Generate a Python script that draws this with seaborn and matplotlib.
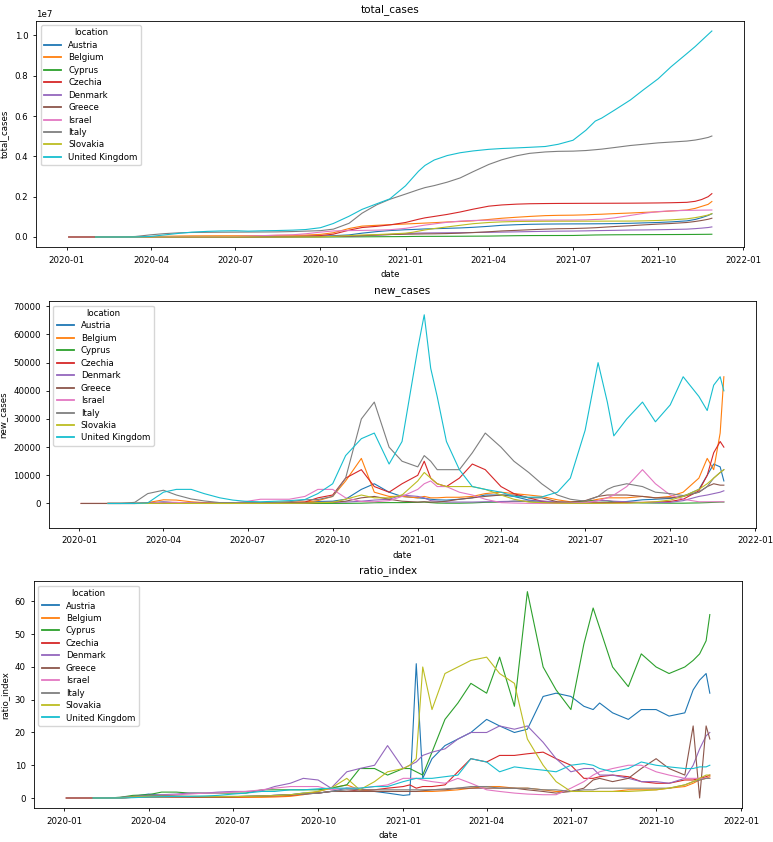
import numpy as np
import pandas as pd
import seaborn as sns
import matplotlib
matplotlib.use("Agg")
import matplotlib.pyplot as plt

plt.rcParams["font.size"] = 6.2
plt.rcParams["axes.linewidth"] = 0.6
plt.rcParams["xtick.major.size"] = 2.5
plt.rcParams["ytick.major.size"] = 2.5
plt.rcParams["xtick.major.width"] = 0.6
plt.rcParams["ytick.major.width"] = 0.6
plt.rcParams["legend.labelspacing"] = 0.4

# Sample dates (roughly twice a month, a few extra where the curves spike)
dates = pd.to_datetime([
    "2020-01-03", "2020-01-15", "2020-02-01", "2020-02-15", "2020-03-01", "2020-03-15",
    "2020-04-01", "2020-04-15", "2020-05-01", "2020-05-15", "2020-06-01", "2020-06-15",
    "2020-07-01", "2020-07-15", "2020-08-01", "2020-08-15", "2020-09-01", "2020-09-15",
    "2020-10-01", "2020-10-15", "2020-11-01", "2020-11-15", "2020-12-01", "2020-12-15",
    "2021-01-01", "2021-01-08", "2021-01-15", "2021-01-22", "2021-02-01", "2021-02-15",
    "2021-03-01", "2021-03-15", "2021-04-01", "2021-04-15", "2021-05-01", "2021-05-15",
    "2021-06-01", "2021-06-15", "2021-07-01",
    "2021-07-15", "2021-07-25", "2021-08-01", "2021-08-15", "2021-09-01", "2021-09-15",
    "2021-10-01", "2021-10-15", "2021-11-01", "2021-11-10", "2021-11-17", "2021-11-24",
    "2021-11-28",
])

countries = ["Austria", "Belgium", "Cyprus", "Czechia", "Denmark",
             "Greece", "Israel", "Italy", "Slovakia", "United Kingdom"]

# total cases, millions (None = not reported yet)
total_cases_m = {
    "Austria": [None, None, 0, 0, 0.00001, 0.0009, 0.0105, 0.0143, 0.0154, 0.016, 0.0166, 0.017,
                0.0178, 0.019, 0.0205, 0.0232, 0.0264, 0.0325, 0.045, 0.064, 0.104, 0.19, 0.267, 0.32,
                0.36, 0.37, 0.385, 0.4, 0.412, 0.43, 0.45, 0.48, 0.53, 0.58, 0.61, 0.63, 0.641, 0.646, 0.65,
                0.652, 0.655, 0.657, 0.665, 0.68, 0.7, 0.72, 0.75, 0.8, 0.87, 0.96, 1.07, 1.15],
    "Belgium": [None, None, 0, 0, 0.000002, 0.0007, 0.013, 0.033, 0.048, 0.055, 0.058, 0.06,
                0.061, 0.063, 0.068, 0.078, 0.085, 0.095, 0.13, 0.21, 0.42, 0.54, 0.58, 0.61,
                0.645, 0.66, 0.675, 0.69, 0.71, 0.745, 0.77, 0.8, 0.87, 0.93, 0.98, 1.02, 1.06, 1.075, 1.083,
                1.1, 1.12, 1.13, 1.16, 1.19, 1.22, 1.25, 1.29, 1.34, 1.42, 1.52, 1.62, 1.76],
    "Cyprus": [None, None, 0, 0, 0, 0.00003, 0.00032, 0.00069, 0.00085, 0.0009, 0.00095, 0.00099,
               0.001, 0.00104, 0.0011, 0.0013, 0.0015, 0.0016, 0.0018, 0.0023, 0.0055, 0.009, 0.013, 0.017,
               0.022, 0.027, 0.03, 0.031, 0.032, 0.034, 0.037, 0.041, 0.045, 0.055, 0.065, 0.071, 0.073, 0.074, 0.076,
               0.09, 0.1, 0.104, 0.11, 0.114, 0.117, 0.12, 0.122, 0.125, 0.128, 0.131, 0.134, 0.137],
    "Czechia": [0, 0, 0, 0, 0, 0.0003, 0.0035, 0.0063, 0.0076, 0.0083, 0.0092, 0.01,
                0.012, 0.013, 0.016, 0.02, 0.025, 0.04, 0.07, 0.14, 0.34, 0.47, 0.53, 0.6,
                0.72, 0.8, 0.88, 0.95, 1.02, 1.12, 1.24, 1.38, 1.53, 1.59, 1.63, 1.65, 1.66, 1.665, 1.668,
                1.671, 1.672, 1.673, 1.675, 1.678, 1.683, 1.69, 1.7, 1.72, 1.77, 1.86, 2.0, 2.15],
    "Denmark": [None, None, 0, 0, 0.00001, 0.0009, 0.003, 0.0068, 0.0094, 0.0107, 0.0117, 0.012,
                0.0129, 0.0133, 0.0139, 0.0155, 0.017, 0.021, 0.028, 0.036, 0.049, 0.067, 0.088, 0.12,
                0.17, 0.185, 0.195, 0.2, 0.205, 0.21, 0.215, 0.222, 0.232, 0.242, 0.255, 0.268, 0.28, 0.29, 0.295,
                0.305, 0.315, 0.32, 0.33, 0.345, 0.35, 0.36, 0.372, 0.39, 0.415, 0.44, 0.47, 0.5],
    "Greece": [0, 0, 0, 0, 0.000005, 0.00023, 0.0013, 0.0022, 0.0026, 0.0028, 0.0029, 0.0032,
               0.0035, 0.0039, 0.0045, 0.0075, 0.01, 0.015, 0.019, 0.025, 0.04, 0.066, 0.104, 0.124,
               0.138, 0.143, 0.148, 0.154, 0.158, 0.17, 0.19, 0.22, 0.26, 0.3, 0.33, 0.36, 0.39, 0.41, 0.42,
               0.44, 0.46, 0.48, 0.52, 0.56, 0.6, 0.64, 0.67, 0.72, 0.77, 0.82, 0.88, 0.93],
    "Israel": [None, None, 0, 0, 0, 0.0002, 0.006, 0.012, 0.016, 0.0166, 0.017, 0.019,
               0.026, 0.045, 0.07, 0.092, 0.11, 0.16, 0.24, 0.3, 0.318, 0.327, 0.34, 0.36,
               0.43, 0.48, 0.54, 0.59, 0.65, 0.73, 0.79, 0.82, 0.832, 0.835, 0.837, 0.838, 0.839, 0.84, 0.842,
               0.85, 0.87, 0.88, 0.95, 1.07, 1.17, 1.26, 1.3, 1.32, 1.326, 1.332, 1.336, 1.34],
    "Italy": [None, None, 0, 0.0004, 0.0017, 0.025, 0.11, 0.165, 0.207, 0.224, 0.233, 0.237,
              0.241, 0.244, 0.248, 0.253, 0.27, 0.29, 0.315, 0.39, 0.68, 1.18, 1.6, 1.87,
              2.13, 2.24, 2.35, 2.45, 2.55, 2.72, 2.93, 3.24, 3.6, 3.83, 4.03, 4.15, 4.22, 4.25, 4.26,
              4.29, 4.33, 4.36, 4.44, 4.54, 4.6, 4.67, 4.71, 4.76, 4.81, 4.87, 4.94, 5.01],
    "Slovakia": [None, None, 0, 0, 0, 0.00005, 0.0004, 0.0011, 0.0014, 0.0015, 0.0015, 0.0016,
                 0.0017, 0.0019, 0.0023, 0.0028, 0.0035, 0.006, 0.01, 0.03, 0.07, 0.1, 0.12, 0.15,
                 0.19, 0.23, 0.29, 0.35, 0.42, 0.5, 0.58, 0.66, 0.72, 0.75, 0.77, 0.775, 0.78, 0.782, 0.783,
                 0.784, 0.785, 0.786, 0.788, 0.79, 0.8, 0.82, 0.85, 0.9, 0.96, 1.02, 1.09, 1.16],
    "United Kingdom": [None, None, 0, 0, 0.00002, 0.001, 0.03, 0.1, 0.18, 0.24, 0.28, 0.3,
                       0.31, 0.29, 0.31, 0.32, 0.34, 0.37, 0.46, 0.67, 1.03, 1.37, 1.65, 1.89,
                       2.54, 2.9, 3.26, 3.55, 3.82, 4.04, 4.18, 4.27, 4.35, 4.39, 4.42, 4.45, 4.49, 4.6, 4.8,
                       5.3, 5.75, 5.9, 6.3, 6.8, 7.3, 7.85, 8.45, 9.1, 9.45, 9.75, 10.05, 10.22],
}

# daily new cases, thousands
new_cases_k = {
    "Austria": [None, None, 0, 0, 0, 0.15, 0.6, 0.2, 0.05, 0.04, 0.03, 0.04,
                0.1, 0.1, 0.1, 0.2, 0.3, 0.7, 0.8, 1.5, 5, 7, 4, 2.5,
                2, 1.8, 1.5, 1.3, 1.2, 1.5, 2, 3, 3, 2.5, 1.2, 0.7, 0.3, 0.1, 0.1,
                0.2, 0.3, 0.4, 0.7, 1.3, 1.5, 1.8, 2.5, 5, 10, 14, 13, 8],
    "Belgium": [None, None, 0, 0, 0, 0.3, 1.3, 1.2, 0.6, 0.3, 0.15, 0.1,
                0.1, 0.2, 0.5, 0.5, 0.5, 1.0, 2.5, 8, 16, 4, 2.5, 2.5,
                2, 2.5, 2, 2, 2.2, 2.2, 2.5, 3.5, 4, 3.5, 3, 2.5, 1.3, 0.6, 0.6,
                1.5, 2, 2, 2, 2.5, 2, 2.5, 4, 9, 16, 12, 25, 45],
    "Cyprus": [None, None, 0, 0, 0, 0.01, 0.03, 0.02, 0.01, 0.005, 0.003, 0.003,
               0.005, 0.005, 0.01, 0.01, 0.01, 0.02, 0.03, 0.05, 0.1, 0.25, 0.3, 0.3,
               0.4, 0.5, 0.3, 0.15, 0.1, 0.1, 0.2, 0.4, 0.5, 0.8, 0.7, 0.3, 0.1, 0.3, 0.9,
               1.0, 0.9, 0.6, 0.3, 0.2, 0.15, 0.1, 0.1, 0.2, 0.3, 0.4, 0.5, 0.5],
    "Czechia": [0, 0, 0, 0, 0, 0.05, 0.3, 0.2, 0.08, 0.06, 0.05, 0.1,
                0.1, 0.1, 0.15, 0.3, 0.5, 2.0, 3.0, 9, 12, 6, 4, 7,
                10, 15, 9, 7, 6, 9, 14, 12, 6, 3.5, 2, 0.8, 0.3, 0.15, 0.2,
                0.2, 0.2, 0.2, 0.3, 0.4, 0.5, 0.7, 1.5, 4.5, 10, 18, 22, 20],
    "Denmark": [None, None, 0, 0, 0, 0.05, 0.3, 0.2, 0.15, 0.08, 0.05, 0.04,
                0.02, 0.03, 0.08, 0.1, 0.2, 0.4, 0.5, 0.5, 0.8, 1.2, 1.5, 3,
                2.5, 2, 1, 0.8, 0.5, 0.5, 0.5, 0.6, 0.7, 0.8, 0.9, 0.9, 0.5, 0.3, 0.3,
                1, 1, 0.8, 0.6, 0.3, 0.3, 0.4, 1, 2.5, 3, 3.5, 4, 4.5],
    "Greece": [0, 0, 0, 0, 0.001, 0.03, 0.08, 0.05, 0.02, 0.01, 0.01, 0.01,
               0.02, 0.03, 0.08, 0.2, 0.2, 0.3, 0.4, 0.8, 2, 2.5, 1.5, 0.8,
               0.5, 0.6, 0.5, 0.5, 0.8, 1.5, 2, 2.5, 3, 3, 2, 2, 0.6, 0.5, 1,
               2.5, 3, 3, 3, 2.5, 2, 2, 2.5, 4, 6, 7, 6.5, 6.5],
    "Israel": [None, None, 0, 0, 0, 0.02, 0.5, 0.4, 0.1, 0.03, 0.05, 0.2,
               0.8, 1.5, 1.5, 1.5, 2.5, 5, 5, 2, 0.7, 0.6, 1, 2.5,
               5, 7, 8, 6, 6, 4, 3, 1.5, 0.3, 0.15, 0.05, 0.03, 0.02, 0.1, 0.3,
               1, 2, 3, 6, 12, 7, 3, 1.5, 0.6, 0.6, 0.6, 0.6, 0.6],
    "Italy": [None, None, 0, 0, 0.4, 3.5, 4.7, 3.0, 1.6, 0.9, 0.3, 0.3,
              0.2, 0.2, 0.3, 0.6, 1.3, 1.4, 2.5, 9, 30, 36, 20, 15,
              13, 17, 15, 12, 12, 12, 18, 25, 20, 15, 11, 7, 3, 1.5, 0.8,
              2.5, 5, 6, 7, 6, 4, 3.5, 2.8, 4, 6, 9, 11, 12],
    "Slovakia": [None, None, 0, 0, 0, 0.01, 0.05, 0.02, 0.01, 0.01, 0.01, 0.01,
                 0.02, 0.02, 0.03, 0.05, 0.1, 0.3, 0.4, 1.5, 3, 2, 2, 3,
                 8, 11, 9, 7, 6, 6, 6, 5, 3, 1.5, 0.5, 0.3, 0.1, 0.05, 0.05,
                 0.05, 0.1, 0.1, 0.1, 0.3, 0.6, 1.2, 2.5, 5, 7, 9, 11, 12],
    "United Kingdom": [None, None, 0, 0, 0.01, 0.2, 4.0, 5.0, 5.0, 3.5, 2.0, 1.2,
                       0.7, 0.6, 0.8, 1.0, 1.4, 3.5, 7.0, 17, 23, 25, 14, 22,
                       55, 67, 48, 38, 22, 12, 6, 5, 4, 2.5, 2.2, 2.3, 4, 9, 26,
                       50, 36, 24, 30, 36, 29, 35, 45, 38, 33, 42, 45, 40],
}

ratio_index = {
    "Austria": [None, None, 0, 0, 0.1, 0.5, 1.2, 0.8, 0.5, 0.4, 0.3, 0.3,
                0.4, 0.5, 0.6, 0.8, 1.0, 1.5, 1.5, 2, 3, 2.5, 2, 1.5,
                0.8, 1, 41, 6, 12, 16, 18, 20, 24, 22, 20, 21, 31, 32, 31,
                28, 27, 29, 26, 24, 27, 27, 25, 26, 33, 36, 38, 32],
    "Belgium": [None, None, 0, 0, 0, 0.2, 0.3, 0.3, 0.3, 0.3, 0.2, 0.2,
                0.2, 0.2, 0.2, 0.3, 0.5, 1, 2, 3, 4, 2.5, 2, 2,
                2, 2, 2, 2, 2, 2.2, 2.5, 3, 3.5, 3.5, 3, 3, 2.5, 2, 2,
                2, 2, 2, 2, 2.5, 2.5, 2.5, 3, 3.5, 4.5, 5.5, 6, 6.5],
    "Cyprus": [None, None, 0, 0, 0.2, 0.8, 1.0, 1.8, 1.8, 1.5, 1.5, 1.5,
               1.5, 1.5, 2.5, 2.5, 2.5, 2.5, 2.5, 3, 4, 9, 9, 7,
               9, 9, 8, 7, 14, 24, 29, 35, 32, 43, 28, 63, 40, 33, 27,
               47, 58, 52, 40, 34, 44, 40, 38, 40, 42, 44, 48, 56],
    "Czechia": [0, 0, 0, 0, 0, 0.3, 0.5, 0.5, 0.4, 0.4, 0.3, 0.3,
                0.3, 0.4, 0.5, 0.6, 0.8, 1.2, 1.5, 2, 2, 2.5, 2.5, 3,
                3.5, 4, 3, 3.5, 3.5, 4, 8, 12, 11, 13, 13, 13.5, 14, 12, 10,
                6, 6, 6.5, 7, 6.5, 5, 4.5, 4.5, 5.5, 5.5, 6, 6.5, 7],
    "Denmark": [None, None, 0, 0, 0.1, 0.4, 0.8, 1.0, 1.2, 1.5, 1.5, 1.8,
                2, 2, 2.2, 3.5, 4.5, 6, 5.5, 3, 8, 9, 10, 16,
                9, 10, 11, 13, 14, 15, 18, 20, 20, 22, 21, 22, 17, 12, 8,
                9, 9, 7, 7, 6, 5, 5, 4.5, 6, 10, 15, 19, 20],
    "Greece": [0, 0, 0, 0, 0, 0.2, 0.3, 0.3, 0.3, 0.3, 0.3, 0.3,
               0.4, 0.5, 0.6, 0.8, 1, 1.2, 1.5, 2, 2, 2, 2, 2,
               2, 2, 2, 2.2, 2.5, 2.5, 3, 3, 3, 3, 3, 2.5, 2, 1.5, 2,
               3, 5.5, 6, 5, 6, 9, 12, 9, 7, 22, 0, 22, 18],
    "Israel": [None, None, 0, 0, 0, 0.2, 0.5, 0.8, 1, 1.2, 1.5, 1.5,
               1.8, 2, 2.5, 3, 3.5, 3.5, 3.5, 2.5, 3, 3, 3.5, 4,
               6, 6, 6, 5.5, 5, 4.5, 6, 4.5, 2.5, 2, 1.5, 1.2, 1, 1, 3,
               5, 7, 8, 9, 10, 10, 8, 7, 6, 6, 6, 6, 6],
    "Italy": [None, None, 0, 0, 0.2, 0.5, 0.8, 0.8, 0.6, 0.5, 0.5, 0.5,
              0.5, 0.5, 0.6, 0.8, 1, 1.2, 1.5, 2, 2.5, 2.5, 2.5, 2.5,
              2.5, 2.5, 2.5, 2.5, 2.5, 2.8, 3, 3.5, 3.5, 3, 3, 3, 2.5, 2.5, 2,
              2.5, 2.5, 3, 3, 3, 3, 3, 3, 4, 5, 5.5, 6, 6],
    "Slovakia": [None, None, 0, 0, 0, 0.3, 0.5, 0.5, 0.5, 0.5, 0.4, 0.4,
                 0.4, 0.5, 0.6, 0.7, 1, 1.5, 2, 3, 6, 2.5, 5, 8,
                 9, 10, 12, 40, 27, 38, 40, 42, 43, 38, 35, 18, 10, 5, 2,
                 2, 2, 2, 2, 2, 2.2, 2.5, 3, 4, 5, 6, 7, 7],
    "United Kingdom": [None, None, 0, 0, 0, 0.1, 0.3, 0.4, 0.5, 0.5, 0.6, 0.8,
                       1.2, 1.5, 2, 2, 2.5, 2.5, 2.8, 3, 3, 3, 3.5, 3.5,
                       5, 5.5, 6, 6, 6, 6.5, 7, 12, 11, 8, 9.5, 9, 8.5, 8, 10,
                       10.5, 10, 9, 8, 9, 11, 10, 9.5, 9, 9, 9.5, 9.5, 10],
}

# long-form table for seaborn
frames = []
for c in countries:
    frames.append(pd.DataFrame({
        "date": dates,
        "location": c,
        "total_cases": np.array(total_cases_m[c], dtype=float) * 1e6,
        "new_cases": np.array(new_cases_k[c], dtype=float) * 1e3,
        "ratio_index": np.array(ratio_index[c], dtype=float),
    }))
df = pd.concat(frames, ignore_index=True)

fig = plt.figure(figsize=(7.73, 8.42), dpi=100)
positions = [
    [0.0472, 0.7063, 0.9153, 0.2691],
    [0.0634, 0.3733, 0.9146, 0.2689],
    [0.0440, 0.0400, 0.9159, 0.2696],
]

for metric, pos in zip(["total_cases", "new_cases", "ratio_index"], positions):
    ax = fig.add_axes(pos)
    sub = df.dropna(subset=[metric])
    sns.lineplot(data=sub, x="date", y=metric, hue="location", hue_order=countries,
                 palette="tab10", linewidth=0.8, ax=ax)
    ax.set_title(metric)
    sns.move_legend(ax, "upper left", title="location")
    for handle in ax.get_legend().get_lines():
        handle.set_linewidth(1.3)
    if metric == "new_cases":
        ax.set_ylim(-8600, 71800)

fig.savefig("out.png", dpi=100)
